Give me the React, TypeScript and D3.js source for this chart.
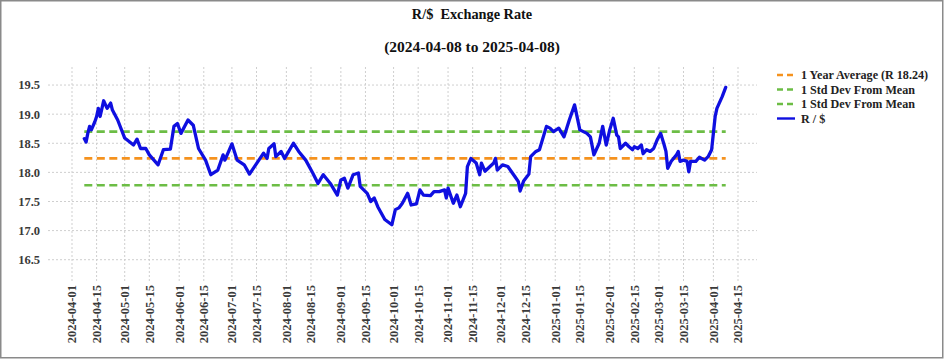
import React from "react";
import * as d3 from "d3";

// R/$ daily close
const rateDates = [
  "2024-04-08", "2024-04-09", "2024-04-10", "2024-04-11", "2024-04-12", "2024-04-14", "2024-04-15",
  "2024-04-16", "2024-04-17", "2024-04-19", "2024-04-21", "2024-04-23", "2024-04-24", "2024-04-27",
  "2024-05-01", "2024-05-06", "2024-05-08", "2024-05-10", "2024-05-13", "2024-05-15", "2024-05-20",
  "2024-05-23", "2024-05-27", "2024-05-29", "2024-05-31", "2024-06-02", "2024-06-06", "2024-06-09",
  "2024-06-12", "2024-06-16", "2024-06-19", "2024-06-23", "2024-06-26", "2024-06-27", "2024-07-01",
  "2024-07-04", "2024-07-08", "2024-07-11", "2024-07-15", "2024-07-19", "2024-07-21", "2024-07-22",
  "2024-07-25", "2024-07-26", "2024-07-29", "2024-07-31", "2024-08-05", "2024-08-08", "2024-08-12",
  "2024-08-16", "2024-08-19", "2024-08-22", "2024-08-26", "2024-08-30", "2024-09-01", "2024-09-03",
  "2024-09-05", "2024-09-08", "2024-09-11", "2024-09-12", "2024-09-16", "2024-09-18", "2024-09-20",
  "2024-09-22", "2024-09-26", "2024-09-30", "2024-10-02", "2024-10-04", "2024-10-06", "2024-10-09",
  "2024-10-11", "2024-10-14", "2024-10-16", "2024-10-18", "2024-10-22", "2024-10-24", "2024-10-27",
  "2024-10-30", "2024-10-31", "2024-11-01", "2024-11-04", "2024-11-06", "2024-11-08", "2024-11-11",
  "2024-11-12", "2024-11-14", "2024-11-17", "2024-11-19", "2024-11-20", "2024-11-22", "2024-11-27",
  "2024-11-28", "2024-11-29", "2024-12-02", "2024-12-05", "2024-12-09", "2024-12-11", "2024-12-12",
  "2024-12-14", "2024-12-17", "2024-12-18", "2024-12-21", "2024-12-23", "2024-12-27", "2024-12-29",
  "2024-12-31", "2025-01-03", "2025-01-06", "2025-01-09", "2025-01-12", "2025-01-15", "2025-01-19",
  "2025-01-21", "2025-01-23", "2025-01-26", "2025-01-28", "2025-01-30", "2025-02-01", "2025-02-03",
  "2025-02-05", "2025-02-06", "2025-02-07", "2025-02-10", "2025-02-12", "2025-02-14", "2025-02-15",
  "2025-02-17", "2025-02-19", "2025-02-20", "2025-02-22", "2025-02-24", "2025-02-26", "2025-02-28",
  "2025-03-02", "2025-03-04", "2025-03-05", "2025-03-06", "2025-03-08", "2025-03-11", "2025-03-12",
  "2025-03-13", "2025-03-15", "2025-03-17", "2025-03-18", "2025-03-19", "2025-03-22", "2025-03-24",
  "2025-03-27", "2025-03-29", "2025-03-31", "2025-04-02", "2025-04-03", "2025-04-06", "2025-04-08",
];

const rateValues = [
  18.58, 18.52, 18.67, 18.79, 18.73, 18.87, 18.96,
  19.1, 18.96, 19.23, 19.1, 19.19, 19.07, 18.9,
  18.59, 18.47, 18.57, 18.41, 18.41, 18.3, 18.13,
  18.39, 18.4, 18.79, 18.84, 18.67, 18.9, 18.81,
  18.41, 18.21, 17.96, 18.04, 18.3, 18.21, 18.49,
  18.21, 18.13, 17.97, 18.15, 18.33, 18.24, 18.41,
  18.49, 18.27, 18.36, 18.24, 18.5, 18.36, 18.21,
  17.99, 17.81, 17.96, 17.81, 17.61, 17.87, 17.9,
  17.73, 17.96, 17.99, 17.76, 17.64, 17.5, 17.56,
  17.41, 17.19, 17.1, 17.36, 17.39, 17.47, 17.64,
  17.44, 17.46, 17.7, 17.61, 17.6, 17.67, 17.67,
  17.7, 17.56, 17.73, 17.47, 17.61, 17.41, 17.64,
  18.1, 18.24, 18.16, 17.96, 18.16, 18.02, 18.16,
  18.24, 18.04, 18.13, 18.1, 17.93, 17.84, 17.68,
  17.85, 17.97, 18.27, 18.36, 18.39, 18.79, 18.76,
  18.7, 18.76, 18.61, 18.9, 19.16, 18.73, 18.67,
  18.61, 18.3, 18.5, 18.79, 18.47, 18.73, 18.93,
  18.64, 18.61, 18.41, 18.5, 18.44, 18.39, 18.44,
  18.41, 18.47, 18.32, 18.39, 18.36, 18.41, 18.56,
  18.67, 18.47, 18.36, 18.07, 18.19, 18.3, 18.36,
  18.19, 18.21, 18.19, 18.01, 18.19, 18.19, 18.26,
  18.21, 18.27, 18.39, 18.96, 19.1, 19.3, 19.46,
];

const average = 18.24;
const upperBand = 18.7;
const lowerBand = 17.78;

const yTicks = [16.5, 17.0, 17.5, 18.0, 18.5, 19.0, 19.5];
const xTicks = [
  "2024-04-01", "2024-04-15", "2024-05-01", "2024-05-15", "2024-06-01", "2024-06-15",
  "2024-07-01", "2024-07-15", "2024-08-01", "2024-08-15", "2024-09-01", "2024-09-15",
  "2024-10-01", "2024-10-15", "2024-11-01", "2024-11-15", "2024-12-01", "2024-12-15",
  "2025-01-01", "2025-01-15", "2025-02-01", "2025-02-15", "2025-03-01", "2025-03-15",
  "2025-04-01", "2025-04-15",
];

const legendItems = [
  { label: "1 Year Average (R 18.24)", color: "#f5921e", dashed: true },
  { label: "1 Std Dev From Mean", color: "#6cbd45", dashed: true },
  { label: "1 Std Dev From Mean", color: "#6cbd45", dashed: true },
  { label: "R / $", color: "#0f0fe0", dashed: false },
];

const width = 944;
const height = 361;
const plotLeft = 48;
const plotRight = 757;
const plotTop = 67;
const plotBottom = 283;

const parse = d3.timeParse("%Y-%m-%d");
const serif = "'Liberation Serif', 'Times New Roman', serif";

export default function App() {
  const data = rateDates.map((d, i) => ({ date: parse(d) as Date, value: rateValues[i] }));

  const x = d3
    .scaleTime()
    .domain([parse("2024-04-01") as Date, parse("2025-04-15") as Date])
    .range([72, 738]);

  const y = d3.scaleLinear().domain([16.1, 19.81]).range([plotBottom, plotTop]);

  const line = d3
    .line<{ date: Date; value: number }>()
    .x((d) => x(d.date))
    .y((d) => y(d.value));

  const first = data[0].date;
  const last = data[data.length - 1].date;

  const bands = [
    { value: upperBand, color: "#6cbd45" },
    { value: lowerBand, color: "#6cbd45" },
    { value: average, color: "#f5921e" },
  ];

  return (
    <svg
      width={width}
      height={height}
      style={{ position: "absolute", left: 0, top: 0, background: "#fff" }}
    >
      <rect x={0.75} y={0.75} width={width - 2} height={357} fill="#fff" stroke="#8a8a8a" strokeWidth={1.5} />

      <text x={472} y={19} textAnchor="middle" fontFamily={serif} fontWeight="bold" fontSize={14.3} fill="#111">
        {"R/$\u00a0 Exchange Rate"}
      </text>
      <text x={472} y={52} textAnchor="middle" fontFamily={serif} fontWeight="bold" fontSize={15.5} fill="#111">
        (2024-04-08 to 2025-04-08)
      </text>

      {/* grid */}
      {yTicks.map((t) => (
        <line
          key={"gy" + t}
          x1={plotLeft}
          x2={plotRight}
          y1={y(t)}
          y2={y(t)}
          stroke="#cfcfcf"
          strokeWidth={1}
          strokeDasharray="2,2"
        />
      ))}
      {xTicks.map((t) => (
        <line
          key={"gx" + t}
          x1={x(parse(t) as Date)}
          x2={x(parse(t) as Date)}
          y1={plotTop}
          y2={plotBottom}
          stroke="#cfcfcf"
          strokeWidth={1}
          strokeDasharray="2,2"
        />
      ))}

      {/* tick labels */}
      {yTicks.map((t) => (
        <text
          key={"ty" + t}
          x={40}
          y={y(t)}
          dy="0.35em"
          textAnchor="end"
          fontFamily={serif}
          fontWeight="bold"
          fontSize={12.5}
          fill="#3a3a3a"
        >
          {d3.format(".1f")(t)}
        </text>
      ))}
      {xTicks.map((t) => (
        <text
          key={"tx" + t}
          transform={`translate(${x(parse(t) as Date)},${plotBottom + 2}) rotate(-90)`}
          dy="0.35em"
          textAnchor="end"
          fontFamily={serif}
          fontWeight="bold"
          fontSize={12.5}
          fill="#3a3a3a"
        >
          {t}
        </text>
      ))}

      {/* mean and std dev lines */}
      {bands.map((b, i) => (
        <line
          key={"b" + i}
          x1={x(first)}
          x2={x(last)}
          y1={y(b.value)}
          y2={y(b.value)}
          stroke={b.color}
          strokeWidth={2.6}
          strokeDasharray="8,4.5"
        />
      ))}

      <path
        d={line(data) || ""}
        fill="none"
        stroke="#0f0fe0"
        strokeWidth={3.3}
        strokeLinejoin="round"
        strokeLinecap="round"
      />

      {/* legend */}
      {legendItems.map((item, i) => {
        const ly = 75 + i * 14.5;
        return (
          <g key={"lg" + i}>
            <line
              x1={777}
              x2={795}
              y1={ly}
              y2={ly}
              stroke={item.color}
              strokeWidth={2.4}
              strokeDasharray={item.dashed ? "6,4" : undefined}
            />
            <text
              x={801}
              y={ly}
              dy="0.35em"
              fontFamily={serif}
              fontWeight="bold"
              fontSize={12.1}
              fill="#222"
            >
              {item.label}
            </text>
          </g>
        );
      })}
    </svg>
  );
}
